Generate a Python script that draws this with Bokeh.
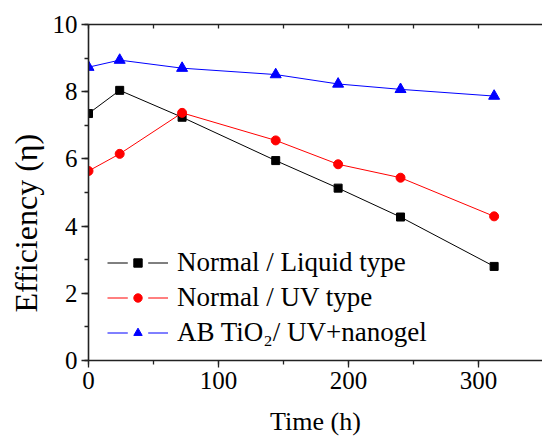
import math
from bokeh.plotting import figure
from bokeh.models import (Range1d, LinearAxis, SingleIntervalTicker, Legend, LegendItem, Title)
from bokeh.embed import file_html
from bokeh.resources import INLINE

# Data
time_h = [0, 24, 72, 144, 192, 240, 312]
liquid = [7.35, 8.04, 7.24, 5.95, 5.13, 4.27, 2.80]
uv = [5.64, 6.15, 7.37, 6.55, 5.84, 5.44, 4.29]
nanogel = [8.73, 8.94, 8.70, 8.51, 8.23, 8.07, 7.87]
series_labels = ["Normal / Liquid type", "Normal / UV type", "AB TiO\u2082/ UV+nanogel"]
x_ticks_major = 100
y_ticks_major = 2

FONT = "Liberation Serif"

p = figure(width=542, height=439, output_backend="svg", toolbar_location=None,
           x_range=Range1d(0, 349.2), y_range=Range1d(0, 10),
           min_border_left=88, min_border_right=0, min_border_top=24, min_border_bottom=79,
           x_axis_location=None, y_axis_location=None)
p.outline_line_color = None
p.xgrid.visible = False
p.ygrid.visible = False
p.background_fill_color = "white"
p.border_fill_color = "white"

def style_axis(ax):
    ax.axis_line_color = "#222222"
    ax.axis_line_width = 1.6
    ax.major_tick_line_color = "#222222"
    ax.minor_tick_line_color = "#222222"
    ax.major_tick_line_width = 1.3
    ax.minor_tick_line_width = 1.3
    ax.major_label_text_font = FONT
    ax.major_label_text_font_size = "25px"
    ax.major_label_text_color = "black"
    ax.axis_label_text_font = FONT
    ax.axis_label_text_font_style = "normal"
    ax.axis_label_text_color = "black"

xaxis = LinearAxis(ticker=SingleIntervalTicker(interval=x_ticks_major, num_minor_ticks=2))
style_axis(xaxis)
xaxis.major_tick_out = 7
xaxis.major_tick_in = 0
xaxis.minor_tick_out = 4
xaxis.minor_tick_in = 0
xaxis.major_label_standoff = 4
xaxis.axis_label = "Time (h)"
xaxis.axis_label_text_font_size = "26px"
xaxis.axis_label_standoff = 15
p.add_layout(xaxis, "below")

yaxis = LinearAxis(ticker=SingleIntervalTicker(interval=y_ticks_major, num_minor_ticks=2))
style_axis(yaxis)
yaxis.major_tick_out = 7
yaxis.major_tick_in = 0
yaxis.minor_tick_out = 4
yaxis.minor_tick_in = 0
yaxis.major_label_standoff = 4
p.add_layout(yaxis, "left")

topaxis = LinearAxis(ticker=SingleIntervalTicker(interval=50, num_minor_ticks=0))
style_axis(topaxis)
topaxis.major_label_text_font_size = "0px"
topaxis.major_label_text_alpha = 0
topaxis.major_tick_in = 4
topaxis.major_tick_out = 0
topaxis.minor_tick_line_color = None
p.add_layout(topaxis, "above")

# y axis label, placed off-centre (lower) as in the reference
ytitle = Title(text="Efficiency (\u03b7)", align="left", offset=48,
               text_font=FONT, text_font_size="32px", text_font_style="normal",
               text_color="black", standoff=11)
p.add_layout(ytitle, "left")

colors = ["black", "#ff0000", "#0000ff"]
markers = ["square", "circle", "triangle"]
sizes = [8, 9, 11]
data = [liquid, uv, nanogel]

# white blanks, drawn first (under everything) so they only show as gaps in the legend
blanks = []
for i in range(3):
    b = p.scatter(time_h, data[i], marker="square", size=8,
                  fill_color="white", line_color="white", line_width=12)
    blanks.append(b)

items = []
for i in range(3):
    ln = p.line(time_h, data[i], line_color=colors[i], line_width=1)
    mk = p.scatter(time_h, data[i], marker=markers[i], size=sizes[i],
                   fill_color=colors[i], line_color=colors[i])
    items.append((ln, mk))

legend_items = []
for i in range(3):
    ln, mk = items[i]
    legend_items.append(LegendItem(label=series_labels[i], renderers=[ln, blanks[i], mk]))

legend = Legend(items=legend_items, location=(19, 12), orientation="vertical",
                glyph_width=61, glyph_height=21, label_standoff=9, spacing=4,
                padding=0, margin=0, border_line_color=None, background_fill_alpha=0,
                label_text_font=FONT, label_text_font_size="27px", label_text_color="black")
p.add_layout(legend, "center")

open("out.html", "w").write(file_html(p, INLINE))
